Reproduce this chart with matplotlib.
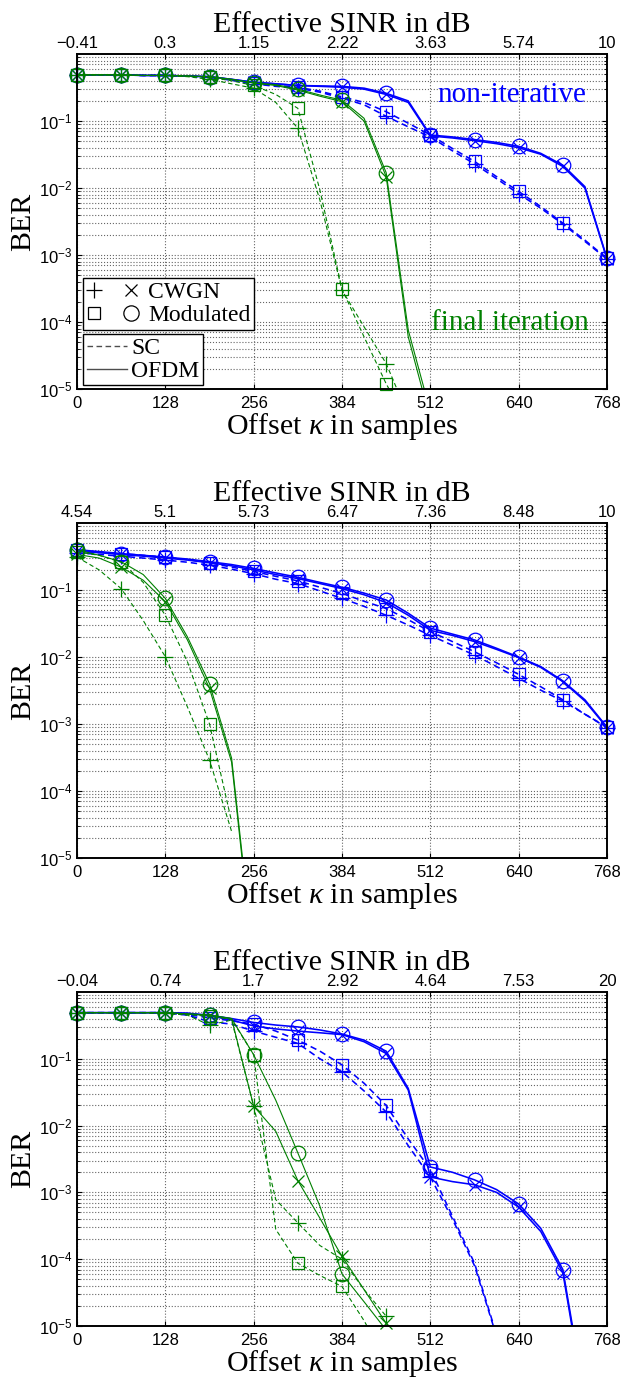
import numpy as np
import matplotlib.pyplot as plt
from matplotlib.lines import Line2D
from matplotlib.legend_handler import HandlerTuple

plt.rcParams['font.family'] = 'Liberation Sans'
plt.rcParams['mathtext.fontset'] = 'custom'
plt.rcParams['mathtext.rm'] = 'Liberation Serif'
plt.rcParams['mathtext.it'] = 'Liberation Serif:italic'
plt.rcParams['mathtext.default'] = 'regular'

nan = np.nan

# offset kappa in samples (curves every 32, markers every 64)
kappa = [0, 32, 64, 96, 128, 160, 192, 224, 256, 288, 320, 352, 384,
         416, 448, 480, 512, 544, 576, 608, 640, 672, 704, 736, 768]
xticks = [0, 128, 256, 384, 512, 640, 768]

# top axis: effective SINR in dB
sinr1 = ['\u22120.41', '0.3', '1.15', '2.22', '3.63', '5.74', '10']
sinr2 = ['4.54', '5.1', '5.73', '6.47', '7.36', '8.48', '10']
sinr3 = ['\u22120.04', '0.74', '1.7', '2.92', '4.64', '7.53', '20']

# ---- panel 1 ----
p1_blue_sc_cwgn = [0.49, 0.49, 0.49, 0.48, 0.48, 0.47, 0.45, 0.41, 0.36, 0.33, 0.31, 0.27, 0.22,
                   0.175, 0.118, 0.082, 0.058, 0.036, 0.023, 0.0138, 0.0082, 0.0050, 0.0029, 0.0016, 0.00087]
p1_blue_sc_mod = [0.49, 0.49, 0.49, 0.48, 0.48, 0.47, 0.45, 0.41, 0.37, 0.34, 0.32, 0.28, 0.23,
                  0.19, 0.138, 0.093, 0.062, 0.039, 0.025, 0.0148, 0.0089, 0.0053, 0.0030, 0.00167, 0.00089]
p1_blue_ofdm_cwgn = [0.49, 0.49, 0.49, 0.48, 0.48, 0.47, 0.46, 0.42, 0.38, 0.36, 0.34, 0.33, 0.32,
                     0.30, 0.25, 0.19, 0.060, 0.056, 0.051, 0.046, 0.040, 0.032, 0.021, 0.010, 0.00087]
p1_blue_ofdm_mod = [0.49, 0.49, 0.49, 0.48, 0.48, 0.47, 0.46, 0.42, 0.38, 0.36, 0.34, 0.335, 0.33,
                    0.31, 0.26, 0.20, 0.062, 0.058, 0.053, 0.048, 0.042, 0.033, 0.022, 0.0105, 0.00089]
p1_green_sc_cwgn = [0.49, 0.49, 0.49, 0.48, 0.48, 0.46, 0.42, 0.36, 0.31, 0.19, 0.078, 0.0066, 3.0e-4,
                    8.5e-5, 2.4e-5, 4e-6, nan, nan, nan, nan, nan, nan, nan, nan, nan]
p1_green_sc_mod = [0.49, 0.49, 0.49, 0.48, 0.48, 0.47, 0.45, 0.40, 0.34, 0.25, 0.155, 0.0093, 3.1e-4,
                   6e-5, 1.2e-5, 3e-6, nan, nan, nan, nan, nan, nan, nan, nan, nan]
p1_green_ofdm_cwgn = [0.49, 0.49, 0.49, 0.48, 0.48, 0.47, 0.46, 0.42, 0.37, 0.34, 0.29, 0.235, 0.195,
                      0.10, 0.0148, 6e-5, 3.5e-6, nan, nan, nan, nan, nan, nan, nan, nan]
p1_green_ofdm_mod = [0.49, 0.49, 0.49, 0.48, 0.48, 0.47, 0.46, 0.42, 0.37, 0.35, 0.30, 0.245, 0.205,
                     0.11, 0.017, 7.6e-5, 4.6e-6, nan, nan, nan, nan, nan, nan, nan, nan]

# ---- panel 2 ----
p2_blue_sc_cwgn = [0.36, 0.34, 0.32, 0.30, 0.28, 0.26, 0.235, 0.205, 0.175, 0.145, 0.125, 0.097, 0.075,
                   0.057, 0.042, 0.030, 0.021, 0.015, 0.0107, 0.0072, 0.0048, 0.0032, 0.0022, 0.0014, 0.00088]
p2_blue_sc_mod = [0.39, 0.37, 0.35, 0.33, 0.31, 0.285, 0.255, 0.22, 0.19, 0.16, 0.137, 0.11, 0.089,
                  0.068, 0.053, 0.036, 0.024, 0.017, 0.012, 0.0082, 0.0055, 0.0036, 0.0023, 0.0014, 0.0009]
p2_blue_ofdm_cwgn = [0.38, 0.36, 0.34, 0.32, 0.30, 0.28, 0.255, 0.23, 0.20, 0.17, 0.148, 0.125, 0.105,
                     0.085, 0.065, 0.042, 0.025, 0.021, 0.017, 0.013, 0.0098, 0.0070, 0.0043, 0.0022, 0.00088]
p2_blue_ofdm_mod = [0.40, 0.375, 0.35, 0.33, 0.31, 0.29, 0.265, 0.24, 0.21, 0.18, 0.155, 0.13, 0.11,
                    0.09, 0.071, 0.045, 0.027, 0.022, 0.018, 0.0135, 0.010, 0.0072, 0.0044, 0.0023, 0.0009]
p2_green_sc_cwgn = [0.31, 0.20, 0.105, 0.035, 0.0101, 0.0018, 2.9e-4, 2.5e-5, nan, nan, nan, nan, nan,
                    nan, nan, nan, nan, nan, nan, nan, nan, nan, nan, nan, nan]
p2_green_sc_mod = [0.37, 0.33, 0.26, 0.13, 0.042, 0.0085, 0.001, 3.5e-5, nan, nan, nan, nan, nan,
                   nan, nan, nan, nan, nan, nan, nan, nan, nan, nan, nan, nan]
p2_green_ofdm_cwgn = [0.34, 0.30, 0.22, 0.14, 0.067, 0.018, 0.0034, 2.7e-4, 2.5e-7, nan, nan, nan, nan,
                      nan, nan, nan, nan, nan, nan, nan, nan, nan, nan, nan, nan]
p2_green_ofdm_mod = [0.40, 0.33, 0.265, 0.17, 0.075, 0.02, 0.004, 3.1e-4, 3e-7, nan, nan, nan, nan,
                     nan, nan, nan, nan, nan, nan, nan, nan, nan, nan, nan, nan]

# ---- panel 3 ----
p3_blue_sc_cwgn = [0.49, 0.49, 0.49, 0.49, 0.49, 0.45, 0.36, 0.33, 0.26, 0.21, 0.17, 0.10, 0.064,
                   0.033, 0.016, 0.005, 0.0017, 0.00040, 8e-5, 7e-6, nan, nan, nan, nan, nan]
p3_blue_sc_mod = [0.49, 0.49, 0.49, 0.49, 0.49, 0.46, 0.41, 0.37, 0.33, 0.26, 0.19, 0.13, 0.081,
                  0.043, 0.020, 0.0063, 0.0022, 0.00044, 8.7e-5, 7.4e-6, nan, nan, nan, nan, nan]
p3_blue_ofdm_cwgn = [0.49, 0.49, 0.49, 0.49, 0.49, 0.48, 0.44, 0.38, 0.31, 0.28, 0.26, 0.245, 0.23,
                     0.18, 0.12, 0.034, 0.0017, 0.00145, 0.0013, 0.0010, 0.0006, 0.00026, 6.3e-5, 7e-7, nan]
p3_blue_ofdm_mod = [0.49, 0.49, 0.49, 0.49, 0.49, 0.48, 0.45, 0.40, 0.35, 0.32, 0.30, 0.27, 0.235,
                    0.19, 0.13, 0.036, 0.0024, 0.0020, 0.00154, 0.0011, 0.00067, 0.00029, 7e-5, 8e-7, nan]
p3_green_sc_cwgn = [0.49, 0.49, 0.49, 0.49, 0.48, 0.45, 0.32, 0.38, 0.0195, 7.8e-4, 3.5e-4, 1.6e-4, 1e-4,
                    3.5e-5, 1.4e-5, nan, nan, nan, nan, nan, nan, nan, nan, nan, nan]
p3_green_sc_mod = [0.49, 0.49, 0.49, 0.49, 0.48, 0.46, 0.43, 0.39, 0.115, 2.8e-4, 8.7e-5, 5.7e-5, 3.9e-5,
                   1.2e-5, 3e-6, nan, nan, nan, nan, nan, nan, nan, nan, nan, nan]
p3_green_ofdm_cwgn = [0.49, 0.49, 0.49, 0.49, 0.49, 0.47, 0.45, 0.40, 0.0195, 0.0082, 0.0015, 4.1e-4, 1.1e-4,
                      3.5e-5, 1.1e-5, nan, nan, nan, nan, nan, nan, nan, nan, nan, nan]
p3_green_ofdm_mod = [0.49, 0.49, 0.49, 0.49, 0.49, 0.47, 0.45, 0.40, 0.115, 0.024, 0.0039, 6.2e-4, 6e-5,
                     2.3e-5, 8.7e-6, nan, nan, nan, nan, nan, nan, nan, nan, nan, nan]

# the SC non-iterative curves of panel 3 carry no markers past this offset
p3_blue_sc_last_marker = 512

BLUE = '#0000ff'
GREEN = '#008000'
SERIF = 'Liberation Serif'

# line style, marker, marker size for each kind
kinds = {
    'sc_cwgn': ('--', '+', 11),
    'sc_mod': ('--', 's', 8.5),
    'ofdm_cwgn': ('-', 'x', 8),
    'ofdm_mod': ('-', 'o', 10.5),
}

panels = [
    (sinr1, {'blue': [('sc_cwgn', p1_blue_sc_cwgn, 768), ('sc_mod', p1_blue_sc_mod, 768),
                      ('ofdm_cwgn', p1_blue_ofdm_cwgn, 768), ('ofdm_mod', p1_blue_ofdm_mod, 768)],
             'green': [('sc_cwgn', p1_green_sc_cwgn, 768), ('sc_mod', p1_green_sc_mod, 768),
                       ('ofdm_cwgn', p1_green_ofdm_cwgn, 768), ('ofdm_mod', p1_green_ofdm_mod, 768)]}),
    (sinr2, {'blue': [('sc_cwgn', p2_blue_sc_cwgn, 768), ('sc_mod', p2_blue_sc_mod, 768),
                      ('ofdm_cwgn', p2_blue_ofdm_cwgn, 768), ('ofdm_mod', p2_blue_ofdm_mod, 768)],
             'green': [('sc_cwgn', p2_green_sc_cwgn, 768), ('sc_mod', p2_green_sc_mod, 768),
                       ('ofdm_cwgn', p2_green_ofdm_cwgn, 768), ('ofdm_mod', p2_green_ofdm_mod, 768)]}),
    (sinr3, {'blue': [('sc_cwgn', p3_blue_sc_cwgn, p3_blue_sc_last_marker),
                      ('sc_mod', p3_blue_sc_mod, p3_blue_sc_last_marker),
                      ('ofdm_cwgn', p3_blue_ofdm_cwgn, 768), ('ofdm_mod', p3_blue_ofdm_mod, 768)],
             'green': [('sc_cwgn', p3_green_sc_cwgn, 768), ('sc_mod', p3_green_sc_mod, 768),
                       ('ofdm_cwgn', p3_green_ofdm_cwgn, 768), ('ofdm_mod', p3_green_ofdm_mod, 768)]}),
]

fig = plt.figure(figsize=(6.25, 13.87), dpi=100)
bottoms = [0.7195, 0.3814, 0.044]
heights = [0.2415, 0.2415, 0.2408]
FS = 21.5

x = np.array(kappa)
axes = []
for (sinr, groups), b, h in zip(panels, bottoms, heights):
    ax = fig.add_axes([0.1232, b, 0.848, h])
    axes.append(ax)
    for cname, color, lw in [('blue', BLUE, 1.15), ('green', GREEN, 0.8)]:
        for kind, vals, last in groups[cname]:
            ls, mk, ms = kinds[kind]
            y = np.array(vals, dtype=float)
            ax.plot(x, y, color=color, ls=ls, lw=lw,
                    dashes=(4, 2.5) if ls == '--' else (None, None))
            ym = np.where((y >= 1e-5) & (x <= last), y, np.nan)
            ax.plot(x[::2], ym[::2], ls='none', marker=mk, ms=ms, mfc='none',
                    mec=color, mew=0.9, clip_on=False)
    ax.set_yscale('log')
    ax.set_xlim(0, 768)
    ax.set_ylim(1e-5, 1)
    ax.set_xticks(xticks)
    ax.set_yticks([1e-5, 1e-4, 1e-3, 1e-2, 1e-1])
    ax.set_axisbelow(True)
    ax.grid(True, which='major', axis='both', ls=':', color='0.4', lw=0.8)
    ax.grid(True, which='minor', axis='y', ls=':', color='0.4', lw=0.8)
    ax.tick_params(which='both', direction='in', right=True, labelsize=12)
    ax.tick_params(axis='x', pad=5)
    for s in ax.spines.values():
        s.set_linewidth(1.2)
    ax.set_ylabel('BER', fontfamily=SERIF, fontsize=FS, labelpad=2)
    ax.set_xlabel('Offset $\\mathit{\\kappa}$ in samples', fontfamily=SERIF, fontsize=FS, labelpad=0)

    top = ax.twiny()
    top.set_xlim(0, 768)
    top.set_xticks(xticks)
    top.set_xticklabels(sinr)
    top.tick_params(direction='in', labelsize=12, pad=2)
    top.set_xlabel('Effective SINR in dB', fontfamily=SERIF, fontsize=FS, labelpad=3)
    for s in top.spines.values():
        s.set_linewidth(1.2)

ax = axes[0]
ax.text(630, 0.245, 'non-iterative', color=BLUE, fontfamily=SERIF, fontsize=21,
        ha='center', va='center')
ax.text(627, 9.7e-5, 'final iteration', color=GREEN, fontfamily=SERIF, fontsize=21,
        ha='center', va='center')

h_plus = Line2D([], [], ls='none', marker='+', color='k', ms=11, mew=0.9)
h_x = Line2D([], [], ls='none', marker='x', color='k', ms=9, mew=0.9)
h_sq = Line2D([], [], ls='none', marker='s', mfc='none', mec='k', ms=9, mew=0.9)
h_o = Line2D([], [], ls='none', marker='o', mfc='none', mec='k', ms=11, mew=0.9)
leg_font = {'family': SERIF, 'size': 17}
leg1 = ax.legend([(h_plus, h_x), (h_sq, h_o)], ['CWGN', 'Modulated'],
                 handler_map={tuple: HandlerTuple(ndivide=None, pad=1.0)},
                 loc='upper left', bbox_to_anchor=(0.0113, 0.331), borderaxespad=0,
                 fancybox=False, edgecolor='k', framealpha=1, prop=leg_font,
                 handlelength=2.2, handletextpad=0.4, borderpad=0.15, labelspacing=0.05)
leg1.get_frame().set_linewidth(1.0)
ax.add_artist(leg1)
leg2 = ax.legend([Line2D([], [], ls='--', color='0.3', lw=1.0, dashes=(4, 2.5)),
                  Line2D([], [], ls='-', color='0.3', lw=1.0)], ['SC', 'OFDM'],
                 loc='upper left', bbox_to_anchor=(0.0113, 0.164), borderaxespad=0,
                 fancybox=False, edgecolor='k', framealpha=1, prop=leg_font,
                 handlelength=1.7, handletextpad=0.2, borderpad=0.15, labelspacing=0.05)
leg2.get_frame().set_linewidth(1.0)

fig.savefig('out.png', dpi=100)
